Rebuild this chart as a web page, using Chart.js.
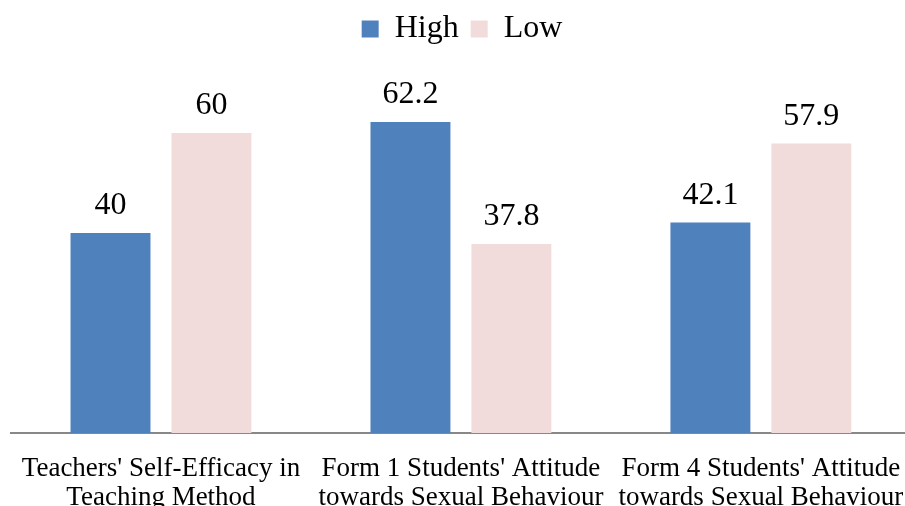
<!DOCTYPE html>
<html>
<head>
<meta charset="utf-8">
<script src="https://cdn.jsdelivr.net/npm/chart.js@4"></script>
<style>
  html, body { margin: 0; padding: 0; background: #fff; overflow: hidden; }
  #wrap { position: absolute; left: 0; top: 0; width: 917px; height: 530px; }
</style>
</head>
<body>
<div id="wrap"><canvas id="c" width="917" height="530"></canvas></div>
<script>
const categories = [
  ["Teachers' Self-Efficacy in", "Teaching Method"],
  ["Form 1 Students' Attitude", "towards Sexual Behaviour"],
  ["Form 4 Students' Attitude", "towards Sexual Behaviour"]
];
const highValues = [40, 62.2, 42.1];
const lowValues = [60, 37.8, 57.9];
const seriesNames = ["High", "Low"];

const FONT = "'Liberation Serif', 'Times New Roman', serif";

// writes each bar's value just above it
const valueLabels = {
  id: 'valueLabels',
  afterDatasetsDraw(chart) {
    const ctx = chart.ctx;
    ctx.save();
    ctx.font = "32px " + FONT;
    ctx.fillStyle = '#000';
    ctx.textAlign = 'center';
    ctx.textBaseline = 'alphabetic';
    chart.data.datasets.forEach((ds, i) => {
      chart.getDatasetMeta(i).data.forEach((bar, j) => {
        ctx.fillText(String(ds.data[j]), bar.x, bar.y - 19);
      });
    });
    ctx.restore();
  }
};

new Chart(document.getElementById('c'), {
  type: 'bar',
  data: {
    labels: categories,
    datasets: [
      { label: seriesNames[0], data: highValues, backgroundColor: '#4F81BD',
        categoryPercentage: 0.673, barPercentage: 0.792 },
      { label: seriesNames[1], data: lowValues, backgroundColor: '#F2DCDB',
        categoryPercentage: 0.673, barPercentage: 0.792 }
    ]
  },
  options: {
    responsive: false,
    animation: false,
    layout: { padding: { left: 11, right: 4, top: 1, bottom: 0 } },
    plugins: {
      legend: {
        position: 'top',
        labels: {
          font: { family: FONT, size: 32 },
          color: '#000',
          boxWidth: 17,
          boxHeight: 17,
          padding: 12
        }
      },
      tooltip: { enabled: false }
    },
    scales: {
      x: {
        grid: { display: false },
        border: { display: true, color: '#888888', width: 2 },
        ticks: {
          font: { family: FONT, size: 27, lineHeight: 1.08 },
          color: '#000',
          padding: 13,
          maxRotation: 0,
          autoSkip: false
        },
        afterFit(scale) { scale.height = 97; }
      },
      y: {
        display: false,
        min: 0,
        max: 75.6
      }
    }
  },
  plugins: [valueLabels]
});
</script>
</body>
</html>
